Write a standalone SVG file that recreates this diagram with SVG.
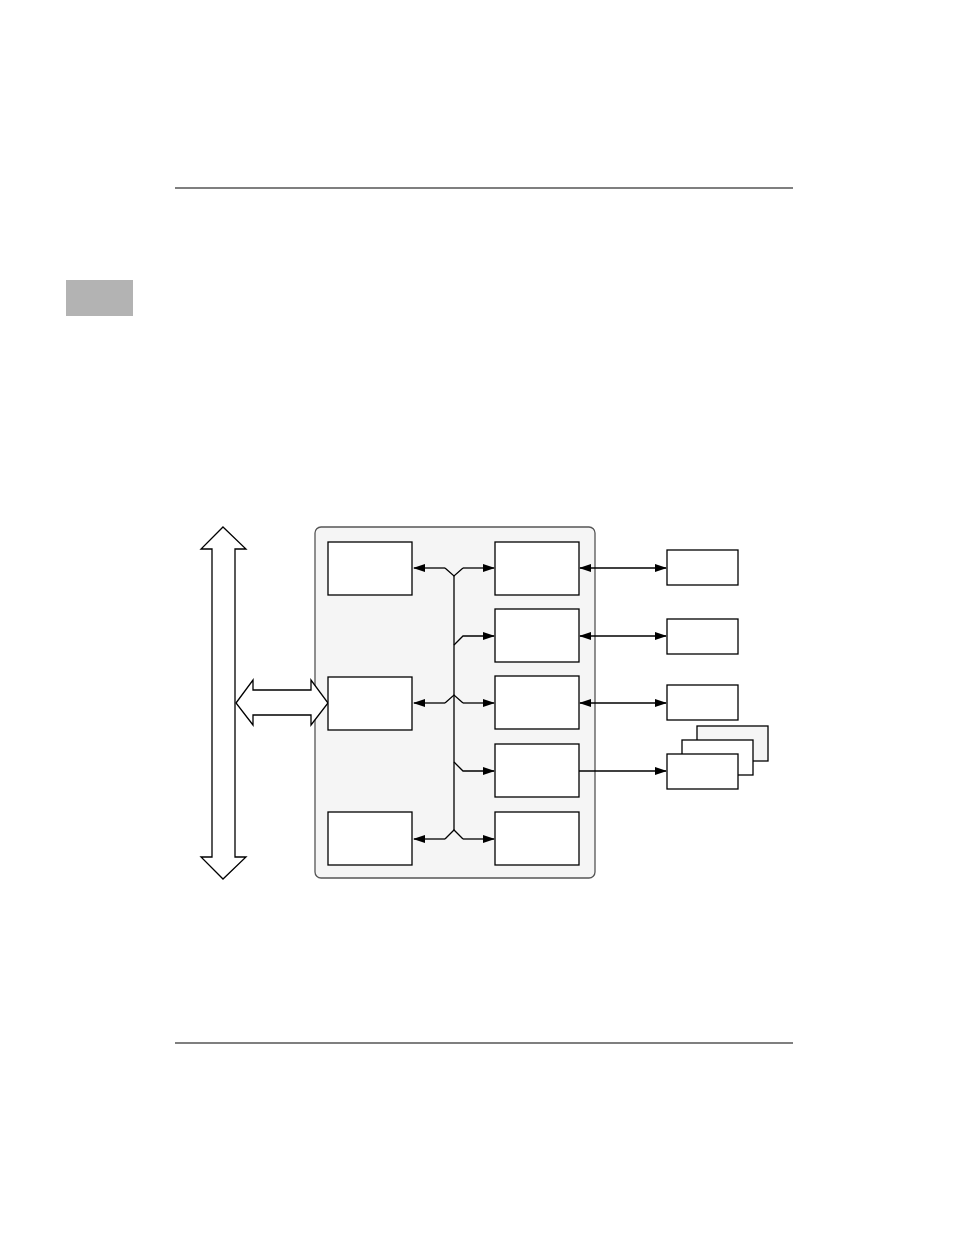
<svg xmlns="http://www.w3.org/2000/svg" width="954" height="1235" viewBox="0 0 954 1235">
<style>
.box{fill:#fff;stroke:#000;stroke-width:1.3}
.line{fill:none;stroke:#000;stroke-width:1.3}
.big{fill:#fff;stroke:#000;stroke-width:1.3;stroke-linejoin:miter}
</style>
<defs>
<marker id="ah" markerWidth="12" markerHeight="8" refX="11" refY="4" orient="auto-start-reverse" markerUnits="userSpaceOnUse">
<path d="M0,0 L12,4 L0,8 Z" fill="#000"/>
</marker>
</defs>
<rect width="954" height="1235" fill="#fff"/>
<line x1="175" y1="188" x2="793" y2="188" stroke="#000" stroke-width="1.2"/>
<line x1="175" y1="1043" x2="793" y2="1043" stroke="#000" stroke-width="1.2"/>
<rect x="66" y="280" width="67" height="36" fill="#b3b3b3"/>

<g id="sysbus">
<path class="big" d="M223,527 L246,549 L235,549 L235,857 L246,857 L223,879 L201,857 L212,857 L212,549 L201,549 Z"/>
</g>
<g id="container">
<rect x="315" y="527" width="280" height="351" rx="6" fill="#f5f5f5" stroke="#555" stroke-width="1.3"/>
</g>
<g id="busarrow">
<path class="big" d="M236,703 L253,680 L253,690 L311,690 L311,680 L328,703 L311,725 L311,715 L253,715 L253,725 Z"/>
</g>

<g id="L1"><rect class="box" x="328" y="542" width="84" height="53"/></g>
<g id="L2"><rect class="box" x="328" y="677" width="84" height="53"/></g>
<g id="L3"><rect class="box" x="328" y="812" width="84" height="53"/></g>
<g id="R1"><rect class="box" x="495" y="542" width="84" height="53"/></g>
<g id="R2"><rect class="box" x="495" y="609" width="84" height="53"/></g>
<g id="R3"><rect class="box" x="495" y="676" width="84" height="53"/></g>
<g id="R4"><rect class="box" x="495" y="744" width="84" height="53"/></g>
<g id="R5"><rect class="box" x="495" y="812" width="84" height="53"/></g>

<g id="E1"><rect class="box" x="667" y="550" width="71" height="35"/></g>
<g id="E2"><rect class="box" x="667" y="619" width="71" height="35"/></g>
<g id="E3"><rect class="box" x="667" y="685" width="71" height="35"/></g>
<g id="E4">
<rect x="697" y="726" width="71" height="35" fill="#f5f5f5" stroke="#000" stroke-width="1.3"/>
<rect class="box" x="682" y="740" width="71" height="35"/>
<rect class="box" x="667" y="754" width="71" height="35"/>
</g>

<g id="connectors">
<line class="line" x1="454" y1="576" x2="454" y2="830"/>
<!-- row 1 -->
<polyline class="line" points="445,568 454,576 463,568"/>
<line class="line" x1="445" y1="568" x2="414" y2="568" marker-end="url(#ah)"/>
<line class="line" x1="463" y1="568" x2="494" y2="568" marker-end="url(#ah)"/>
<!-- row 2 -->
<polyline class="line" points="454,645 463,636 494,636" marker-end="url(#ah)"/>
<!-- row 3 -->
<polyline class="line" points="445,703 454,695 463,703"/>
<line class="line" x1="445" y1="703" x2="414" y2="703" marker-end="url(#ah)"/>
<line class="line" x1="463" y1="703" x2="494" y2="703" marker-end="url(#ah)"/>
<!-- row 4 -->
<polyline class="line" points="454,762 463,771 494,771" marker-end="url(#ah)"/>
<!-- row 5 -->
<polyline class="line" points="445,839 454,830 463,839"/>
<line class="line" x1="445" y1="839" x2="414" y2="839" marker-end="url(#ah)"/>
<line class="line" x1="463" y1="839" x2="494" y2="839" marker-end="url(#ah)"/>
<!-- external -->
<line class="line" x1="580" y1="568" x2="666" y2="568" marker-start="url(#ah)" marker-end="url(#ah)"/>
<line class="line" x1="580" y1="636" x2="666" y2="636" marker-start="url(#ah)" marker-end="url(#ah)"/>
<line class="line" x1="580" y1="703" x2="666" y2="703" marker-start="url(#ah)" marker-end="url(#ah)"/>
<line class="line" x1="579" y1="771" x2="666" y2="771" marker-end="url(#ah)"/>
</g>
</svg>
